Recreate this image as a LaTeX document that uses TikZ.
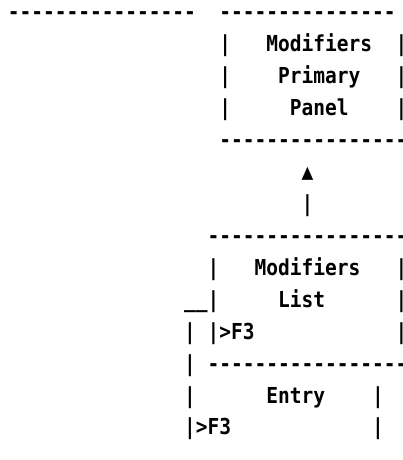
\documentclass[tikz,border=0pt]{standalone}
\usepackage{fontspec}
\setmonofont{DejaVu Sans Mono}[BoldFont=DejaVu Sans Mono Bold]

\begin{document}
\begin{tikzpicture}[x=11.75pt, y=-31.95pt]
\tikzstyle{ascii}=[inner sep=0pt, outer sep=0pt, anchor=base west, xscale=0.8871, transform shape, font=\ttfamily\bfseries\fontsize{22}{22}\selectfont]

\useasboundingbox (-7.8pt,19.6pt) rectangle (394.2pt,-440.4pt);
\clip (-7.8pt,19.6pt) rectangle (394.2pt,-440.4pt);

%% Primary panel
  \node[ascii] (rule_left) at (0,0) {----------------};
  \node[ascii] (primary_top) at (18,0) {---------------};
  \foreach \r in {1,2,3} {
    \node[ascii] (primary_l\r) at (18,\r) {|};
    \node[ascii] (primary_r\r) at (33,\r) {|};
  }
  \node[ascii] (primary_t1) at (22,1) {Modifiers};
  \node[ascii] (primary_t2) at (23,2) {Primary};
  \node[ascii] (primary_t3) at (24,3) {Panel};
  \node[ascii] (primary_bottom) at (18,4) {----------------};

%% Arrow up
  \node[ascii] (arrow_head) at (25,5) {▲};
  \node[ascii] (arrow_shaft) at (25,6) {|};

%% Modifiers list
  \node[ascii] (list_top) at (17,7) {-----------------};
  \foreach \r in {8,9,10} {
    \node[ascii] (list_l\r) at (17,\r) {|};
    \node[ascii] (list_r\r) at (33,\r) {|};
  }
  \node[ascii] (list_t1) at (21,8) {Modifiers};
  \node[ascii] (list_t2) at (23,9) {List};
  \node[ascii] (list_key) at (18,10) {>F3};
  \node[ascii] (list_bottom) at (17,11) {-----------------};

%% Entry
  \node[ascii] (loop_foot) at (15,9) {\_\_};
  \foreach \r in {10,...,13} {
    \node[ascii] (entry_l\r) at (15,\r) {|};
  }
  \node[ascii] (entry_t1) at (22,12) {Entry};
  \node[ascii] (entry_key) at (16,13) {>F3};
  \node[ascii] (entry_r12) at (31,12) {|};
  \node[ascii] (entry_r13) at (31,13) {|};
\end{tikzpicture}
\end{document}
